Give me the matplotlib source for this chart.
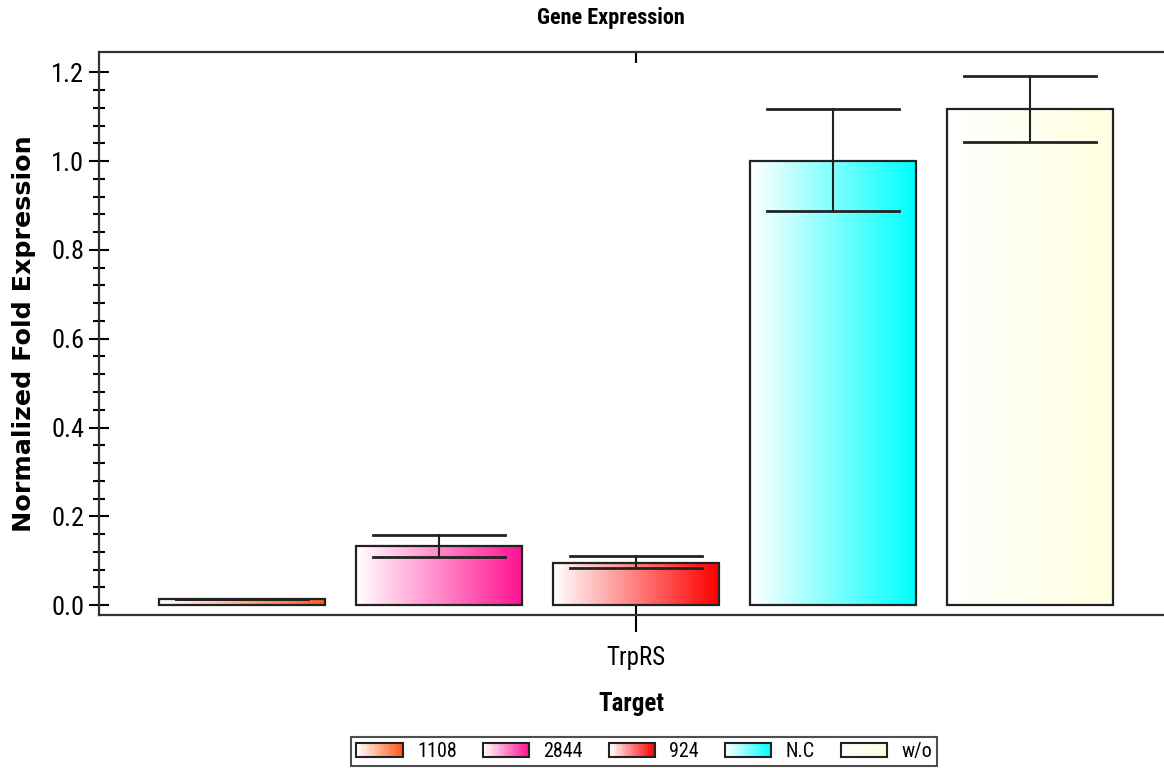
import numpy as np
import matplotlib
matplotlib.use("Agg")
import matplotlib.pyplot as plt
from matplotlib.colors import to_rgb
from matplotlib.patches import Rectangle
from matplotlib.legend_handler import HandlerBase
from matplotlib.font_manager import FontProperties

# DATA
samples = ["1108", "2844", "924", "N.C", "w/o"]
values = [0.013, 0.133, 0.095, 1.000, 1.117]
err_hi = [0.013, 0.158, 0.110, 1.117, 1.191]
err_lo = [0.013, 0.108, 0.083, 0.887, 1.043]
colors = ["#FF5A1A", "#FF1493", "#FF0000", "#00FFFF", "#FFFFE0"]
target = "TrpRS"
yticks = [0.0, 0.2, 0.4, 0.6, 0.8, 1.0, 1.2]

plt.rcParams['font.family'] = ['Roboto Condensed', 'DejaVu Sans']

fig = plt.figure(figsize=(11.64, 7.68), dpi=100)
ax = fig.add_axes([0.085, 0.199, 0.915, 0.733])

width = 0.84
x = np.arange(len(samples))


def gradient(c, n=64):
    rgb = np.array(to_rgb(c))
    t = np.linspace(0, 1, n)[:, None]
    return (1 - t) + t * rgb


# bars with white -> colour gradient
for i in range(len(samples)):
    g = gradient(colors[i])[None, :, :]
    ax.imshow(g, extent=[x[i] - width / 2, x[i] + width / 2, 0, values[i]],
              aspect='auto', zorder=2, interpolation='bilinear')
    ax.add_patch(Rectangle((x[i] - width / 2, 0), width, values[i], fill=False,
                           edgecolor='#222222', lw=1.6, zorder=3))
    # error bars
    cap = width * 0.4
    ax.plot([x[i], x[i]], [err_lo[i], err_hi[i]], color='#222222', lw=1.5, zorder=4)
    ax.plot([x[i] - cap, x[i] + cap], [err_hi[i], err_hi[i]], color='#222222', lw=2, zorder=4)
    ax.plot([x[i] - cap, x[i] + cap], [err_lo[i], err_lo[i]], color='#222222', lw=2, zorder=4)

ax.set_xlim(-0.726, 4.68)
ax.set_ylim(-0.0225, 1.245)

ax.set_xticks([2])
ax.set_xticklabels([target], fontsize=18)
ax.set_yticks(yticks)
ax.set_yticklabels([f"{v:.1f}" for v in yticks], fontsize=19)
ax.set_yticks(np.arange(0, 1.21, 0.04), minor=True)
ax.tick_params(axis='y', which='major', direction='inout', length=15, width=1.5, pad=3)
ax.tick_params(axis='y', which='minor', direction='inout', length=9, width=1.5)
ax.tick_params(axis='x', which='major', direction='inout', length=24, width=1.5, pad=10)

top = ax.secondary_xaxis('top')
top.set_xticks([2])
top.set_xticklabels([""])
top.tick_params(direction='in', length=8, width=1.5)
top.spines['top'].set_visible(False)

for s in ['left', 'bottom', 'top']:
    ax.spines[s].set_linewidth(1.6)
    ax.spines[s].set_color('#333333')
ax.spines['right'].set_visible(False)

ax.set_ylabel("Normalized Fold Expression", labelpad=11,
              fontproperties=FontProperties(family='DejaVu Sans', weight='bold', size=18.3))
ax.set_xlabel("Target", fontsize=18, fontweight='bold', labelpad=16)
fig.text(0.525, 0.976, "Gene Expression", fontsize=16, fontweight='bold',
         ha='center', va='center')


class GradHandler(HandlerBase):
    def create_artists(self, legend, orig, xd, yd, w, h, fontsize, trans):
        arts = []
        n = 20
        g = gradient(orig.get_facecolor(), n)
        for k in range(n):
            arts.append(Rectangle((xd + w * k / n, yd), w / n + 0.3, h, facecolor=g[k],
                                  edgecolor='none', transform=trans))
        arts.append(Rectangle((xd, yd), w, h, fill=False, edgecolor='#222222', lw=1.5,
                              transform=trans))
        return arts


handles = [Rectangle((0, 0), 1, 1, facecolor=c) for c in colors]
leg = fig.legend(handles, samples, loc='center', bbox_to_anchor=(0.5535, 0.0215), ncol=5,
                 fontsize=14.5, frameon=True, fancybox=False, edgecolor='#222222',
                 handler_map={Rectangle: GradHandler()}, handlelength=2.3,
                 handleheight=0.7, handletextpad=0.7, columnspacing=1.3, borderpad=0.25)
leg.get_frame().set_linewidth(1.5)

plt.savefig("out.png", dpi=100)
